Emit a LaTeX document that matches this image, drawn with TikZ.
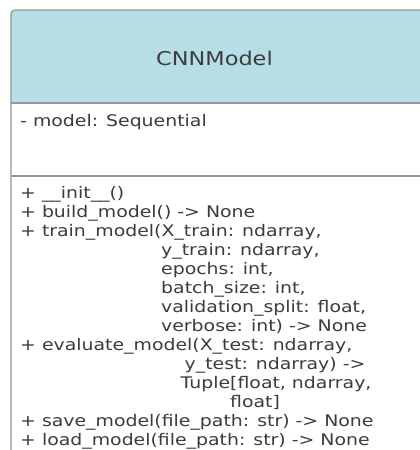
\documentclass[tikz,border=0pt]{standalone}
\usepackage{fontspec}
\usepackage{graphicx}
\newfontfamily\vfont{DejaVu Sans}
\definecolor{hdr}{RGB}{183,221,231}
\definecolor{txt}{RGB}{60,60,60}
\definecolor{brd}{RGB}{150,150,150}
\newcommand{\sx}[1]{\scalebox{1.18}[1]{#1}}
\begin{document}
\begin{tikzpicture}[x=1pt,y=-1pt,
  mem/.style={anchor=base west, inner sep=0pt, text=txt, font=\vfont\fontsize{16}{19}\selectfont},
  ttl/.style={anchor=base, inner sep=0pt, text=txt, font=\vfont\fontsize{19}{22}\selectfont},
  frame/.style={draw=brd, line width=1.3pt}]
\useasboundingbox (0,0) rectangle (420,450);
\clip (0,0) rectangle (420,450);
\fill[white] (0,0) rectangle (420,450);
\fill[hdr] (11,103) [rounded corners=4pt] -- (11,10) -- (440,10) [sharp corners] -- (440,103) -- cycle;
\draw[frame, rounded corners=4pt] (11,480) -- (11,10) -- (440,10);
\draw[frame] (11,103) -- (440,103);
\draw[frame] (11,176) -- (440,176);
\node[ttl] (title) at (214.5,65) {\sx{CNNModel}};
\node[mem] (attr) at (20,126) {\sx{- model: Sequential}};
\node[mem] (m1) at (20,198) {\sx{+ \_\_init\_\_()}};
\node[mem] (m2) at (20,217) {\sx{+ build\_model() -> None}};
\node[mem] (m3) at (20,236) {\sx{+ train\_model(X\_train: ndarray,}};
\node[mem] (m3a) at (161,255) {\sx{y\_train: ndarray,}};
\node[mem] (m3b) at (161,274) {\sx{epochs: int,}};
\node[mem] (m3c) at (161,293) {\sx{batch\_size: int,}};
\node[mem] (m3d) at (161,312) {\sx{validation\_split: float,}};
\node[mem] (m3e) at (161,331) {\sx{verbose: int) -> None}};
\node[mem] (m4) at (20,350) {\sx{+ evaluate\_model(X\_test: ndarray,}};
\node[mem] (m4a) at (184.5,369) {\sx{y\_test: ndarray) ->}};
\node[mem] (m4b) at (180.5,388) {\sx{Tuple[float, ndarray,}};
\node[mem] (m4c) at (230,407) {\sx{float]}};
\node[mem] (m5) at (20,426) {\sx{+ save\_model(file\_path: str) -> None}};
\node[mem] (m6) at (20,445) {\sx{+ load\_model(file\_path: str) -> None}};
\end{tikzpicture}
\end{document}
